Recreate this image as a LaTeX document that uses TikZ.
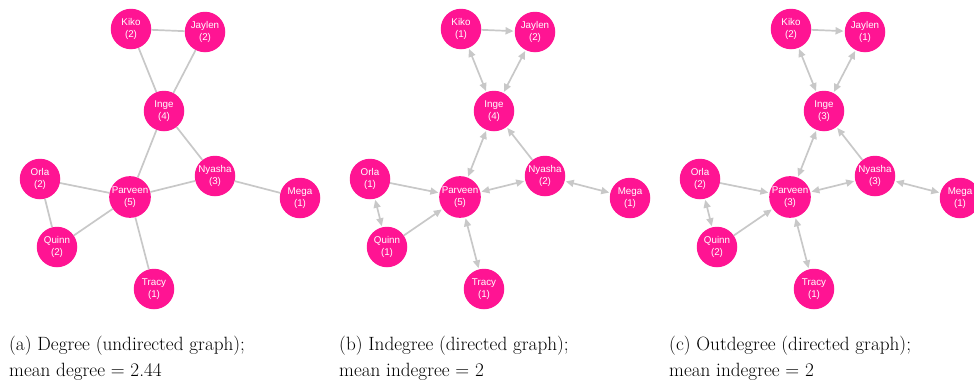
\documentclass[tikz,border=0pt]{standalone}
\usepackage{fontspec}
\newfontfamily\personfont{Liberation Sans}
\usetikzlibrary{arrows.meta}

\definecolor{personpink}{RGB}{255,20,147}
\definecolor{edgegray}{RGB}{200,200,200}

\tikzset{
  person/.style={circle, fill=personpink, draw=none, minimum size=40.5pt,
    inner sep=0pt, align=center, text=white,
    font=\personfont\fontsize{9.8}{11.5}\selectfont},
  edge/.style={draw=edgegray, line width=1.7pt},
  oneway/.style={edge, -{Triangle[length=8pt,width=7pt]}, shorten >=1pt},
  twoway/.style={edge, {Triangle[length=8pt,width=7pt]}-{Triangle[length=8pt,width=7pt]},
    shorten >=1pt, shorten <=1pt},
  caption/.style={anchor=base west, inner sep=0pt,
    font=\fontsize{19.2}{23}\selectfont}
}

\begin{document}
\begin{tikzpicture}[x=1pt, y=-1pt]
\useasboundingbox (0,0) rectangle (974,383);

% ---- (a) undirected graph, degree ----
\begin{scope}[shift={(0,0)}]
  \foreach \n/\x/\y/\d in {Kiko/131/29/2, Jaylen/205/32/2, Inge/164/111/4,
      Orla/40/179/2, Parveen/130/197/5, Nyasha/215/176/3, Mega/300/198/1,
      Quinn/57/247/2, Tracy/154/289/1}
    \node[person] (a\n) at (\x,\y) {\n\\(\d)};
  \foreach \s/\t in {Kiko/Jaylen, Kiko/Inge, Jaylen/Inge, Inge/Parveen,
      Inge/Nyasha, Parveen/Nyasha, Nyasha/Mega, Orla/Parveen, Orla/Quinn,
      Quinn/Parveen, Parveen/Tracy}
    \draw[edge] (a\s) -- (a\t);
\end{scope}

% ---- (b) directed graph, indegree ----
\begin{scope}[shift={(330,0)}]
  \foreach \n/\x/\y/\d in {Kiko/131/29/1, Jaylen/205/32/2, Inge/164/111/4,
      Orla/40/179/1, Parveen/130/197/5, Nyasha/215/176/2, Mega/300/198/1,
      Quinn/57/247/1, Tracy/154/289/1}
    \node[person] (b\n) at (\x,\y) {\n\\(\d)};
  \foreach \s/\t in {Kiko/Jaylen, Nyasha/Inge, Orla/Parveen, Quinn/Parveen}
    \draw[oneway] (b\s) -- (b\t);
  \foreach \s/\t in {Kiko/Inge, Jaylen/Inge, Inge/Parveen, Parveen/Nyasha,
      Nyasha/Mega, Orla/Quinn, Parveen/Tracy}
    \draw[twoway] (b\s) -- (b\t);
\end{scope}

% ---- (c) directed graph, outdegree ----
\begin{scope}[shift={(660,0)}]
  \foreach \n/\x/\y/\d in {Kiko/131/29/2, Jaylen/205/32/1, Inge/164/111/3,
      Orla/40/179/2, Parveen/130/197/3, Nyasha/215/176/3, Mega/300/198/1,
      Quinn/57/247/2, Tracy/154/289/1}
    \node[person] (c\n) at (\x,\y) {\n\\(\d)};
  \foreach \s/\t in {Kiko/Jaylen, Nyasha/Inge, Orla/Parveen, Quinn/Parveen}
    \draw[oneway] (c\s) -- (c\t);
  \foreach \s/\t in {Kiko/Inge, Jaylen/Inge, Inge/Parveen, Parveen/Nyasha,
      Nyasha/Mega, Orla/Quinn, Parveen/Tracy}
    \draw[twoway] (c\s) -- (c\t);
\end{scope}

% ---- captions ----
\node[caption] (capa1) at (9,350.5) {(a) Degree (undirected graph);};
\node[caption] (capa2) at (9,376.7) {mean degree = 2.44};
\node[caption] (capb1) at (339,350.5) {(b) Indegree (directed graph);};
\node[caption] (capb2) at (339,376.7) {mean indegree = 2};
\node[caption] (capc1) at (669,350.5) {(c) Outdegree (directed graph);};
\node[caption] (capc2) at (669,376.7) {mean indegree = 2};
\end{tikzpicture}
\end{document}
